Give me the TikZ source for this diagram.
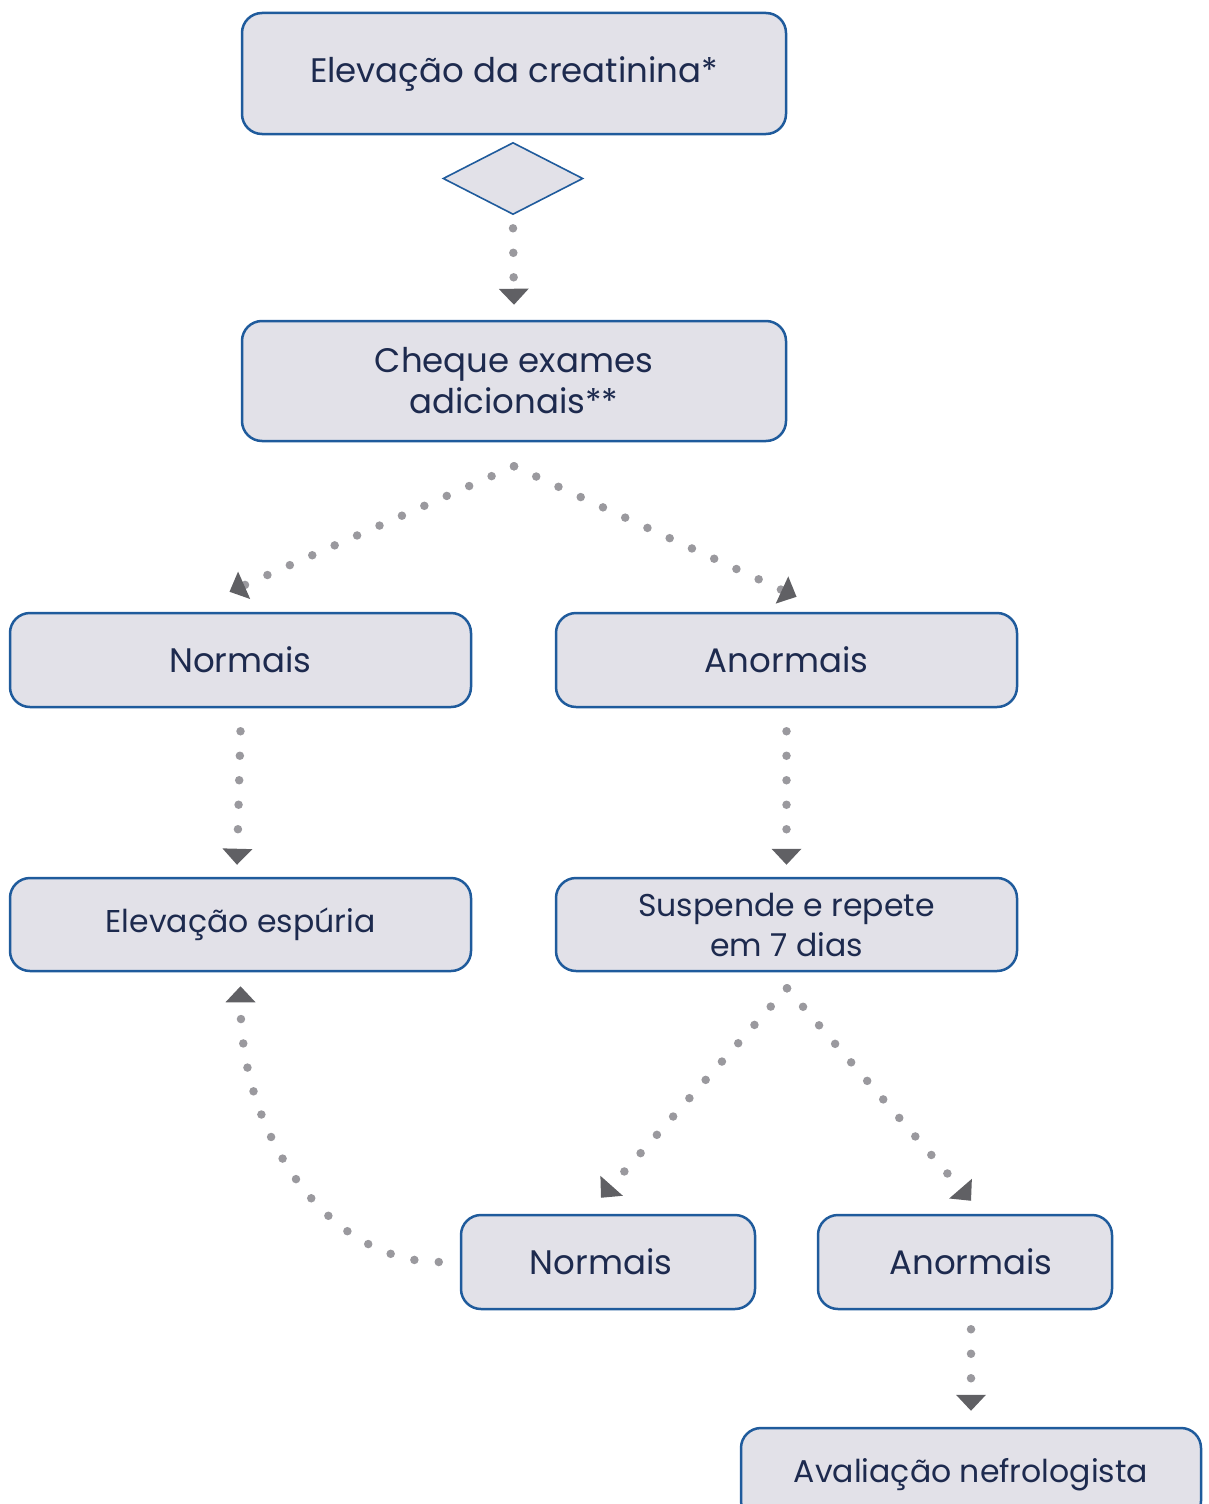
\documentclass[tikz,border=0pt]{standalone}
\usepackage{fontspec}
\setmainfont{Poppins}
\usetikzlibrary{arrows.meta,shapes.geometric,calc}
\definecolor{boxfill}{HTML}{E2E1E8}
\definecolor{boxline}{HTML}{1F5B9C}
\definecolor{txt}{HTML}{1D2A4E}
\definecolor{dotc}{HTML}{9A999E}
\definecolor{tipc}{HTML}{606064}
\tikzset{
  box/.style={draw=boxline, line width=2.5pt, fill=boxfill, rounded corners=20pt,
    text=txt, font=\fontsize{34}{41}\selectfont, align=center, inner sep=0pt},
  smalltext/.style={font=\fontsize{31.5}{40}\selectfont},
  dia/.style={diamond, draw=boxline, line width=1.6pt, fill=boxfill, inner sep=0pt,
    minimum width=140pt, minimum height=72pt, aspect=1.94},
  conn/.style={draw=dotc, line width=8.5pt, line cap=round, dash pattern=on 0pt off 24.5pt,
    -{Triangle[length=16pt,width=30pt,line width=0pt,color=tipc,fill=tipc]}},
}
\begin{document}
\begin{tikzpicture}[x=1pt,y=-1pt]
\useasboundingbox (0,0) rectangle (1208,1504);
\node[box, minimum width=544pt, minimum height=121pt] (top) at (514,73.5) {Elevação da creatinina*};
\node[dia] (d) at (513,178.5) {};
\node[box, minimum width=544pt, minimum height=120pt] (chk) at (514,381) {Cheque exames\\adicionais**};
\node[box, minimum width=461pt, minimum height=94pt] (n1) at (240.5,660) {Normais};
\node[box, minimum width=461pt, minimum height=94pt] (a1) at (786.5,660) {Anormais};
\node[box, smalltext, minimum width=461pt, minimum height=93pt] (esp) at (240.5,924.5) {Elevação espúria};
\node[box, smalltext, minimum width=461pt, minimum height=93pt] (sus) at (786.5,924.5) {Suspende e repete\\em 7 dias};
\node[box, minimum width=294pt, minimum height=94pt] (n2) at (608,1262) {Normais\hspace*{14pt}};
\node[box, minimum width=294pt, minimum height=94pt] (a2) at (965,1262) {\hspace*{12pt}Anormais};
\node[box, smalltext, minimum width=460pt, minimum height=93pt] (av) at (971,1474.5) {Avaliação nefrologista};

\coordinate (ap1) at ($(chk.south)+(0,24)$);
\coordinate (ap2) at ($(sus.south)+(0.5,16)$);

\draw[conn] ([yshift=-13pt]d.south) -- ([yshift=15pt]chk.north);
\draw[conn] (ap1) -- ($(n1.north)+(-11,-20)$);
\draw[conn] (ap1) -- ($(a1.north)+(10,-15)$);
\draw[conn] ([yshift=-23pt]n1.south) -- ($(n1.south)!(esp.north)!(n1.south)+(-3.5,-12)$);
\draw[conn] ([yshift=-23pt]a1.south) -- ($(a1.south)!(sus.north)!(a1.south)+(0,-12)$);
\draw[conn] (ap2) -- ($(n2.north)+(-7,-16)$);
\draw[conn] (ap2) -- ($(a2.north)+(6,-13)$);
\draw[conn] ([xshift=-21pt]n2.west) .. controls +(-110,0) and +(0,150) .. ([yshift=-14pt]esp.south);
\draw[conn] ([xshift=6pt,yshift=-19pt]a2.south) -- ([yshift=16pt]av.north);
\end{tikzpicture}
\end{document}
